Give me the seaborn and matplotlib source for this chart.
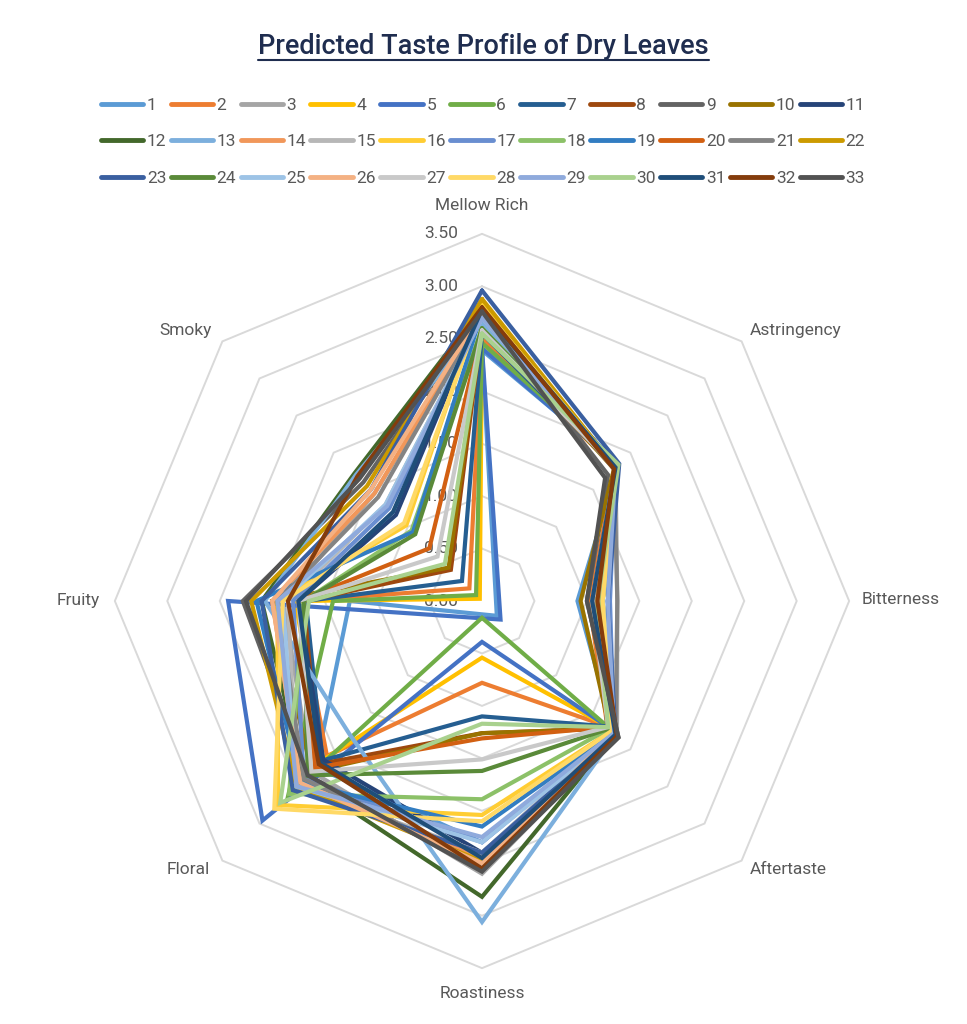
import numpy as np
import pandas as pd
import matplotlib
matplotlib.use("Agg")
import matplotlib.pyplot as plt
import seaborn as sns
from matplotlib.lines import Line2D

# ---------------- data ----------------
categories = ["Mellow Rich", "Astringency", "Bitterness", "Aftertaste",
              "Roastiness", "Floral", "Fruity", "Smoky"]
series_names = [str(i) for i in range(1, 34)]

mellow_rich = [2.39, 2.50, 2.70, 2.55, 2.41, 2.46, 2.55, 2.62, 2.75, 2.65, 2.78,
               2.80, 2.65, 2.75, 2.70, 2.85, 2.72, 2.60, 2.75, 2.58, 2.72, 2.88,
               2.96, 2.60, 2.70, 2.75, 2.58, 2.80, 2.70, 2.55, 2.78, 2.80, 2.76]
astringency = [1.84, 1.80, 1.80, 1.81, 1.83, 1.84, 1.80, 1.80, 1.70, 1.78, 1.80,
               1.80, 1.82, 1.80, 1.80, 1.80, 1.80, 1.82, 1.82, 1.80, 1.78, 1.80,
               1.85, 1.80, 1.80, 1.80, 1.80, 1.80, 1.80, 1.84, 1.80, 1.78, 1.66]
bitterness = [0.91, 1.02, 1.29, 1.15, 1.20, 1.10, 1.10, 1.10, 1.00, 0.94, 1.05,
              1.10, 1.15, 1.10, 1.20, 1.15, 1.22, 1.12, 1.20, 1.05, 1.29, 1.15,
              1.20, 1.10, 1.15, 1.10, 1.05, 1.15, 1.20, 1.10, 1.05, 1.10, 1.00]
aftertaste = [1.78, 1.69, 1.82, 1.69, 1.70, 1.70, 1.69, 1.72, 1.84, 1.72, 1.80,
              1.80, 1.80, 1.78, 1.78, 1.75, 1.78, 1.72, 1.78, 1.70, 1.80, 1.78,
              1.80, 1.72, 1.80, 1.78, 1.70, 1.75, 1.78, 1.70, 1.80, 1.82, 1.84]
roastiness = [2.30, 0.78, 2.60, 0.54, 0.39, 0.16, 1.10, 1.26, 2.55, 1.26, 2.40,
              2.82, 3.06, 2.45, 2.40, 2.04, 2.30, 1.89, 2.15, 1.31, 2.50, 2.48,
              2.40, 1.62, 2.30, 2.50, 1.51, 2.10, 2.25, 1.17, 2.45, 2.55, 2.58]
floral = [2.24, 2.09, 2.30, 2.14, 2.96, 2.61, 2.15, 2.20, 2.35, 2.30, 2.14,
          2.40, 1.79, 2.45, 2.50, 2.75, 2.40, 2.60, 2.45, 2.25, 2.40, 2.50,
          2.55, 2.35, 2.50, 2.45, 2.30, 2.80, 2.50, 2.72, 2.18, 2.20, 2.35]
fruity = [1.26, 1.76, 1.90, 1.78, 2.42, 1.42, 1.68, 1.70, 2.28, 2.00, 1.75,
          2.10, 2.07, 2.00, 1.85, 1.95, 1.80, 1.70, 2.15, 1.75, 1.95, 2.20,
          2.10, 1.70, 1.90, 2.00, 1.75, 1.90, 1.95, 1.65, 1.75, 1.85, 2.25]
smoky = [-0.20, 0.17, 1.45, 0.03, -0.25, 0.08, 0.27, 0.42, 1.60, 0.45, 1.16,
         1.72, 1.70, 1.45, 1.30, 1.02, 1.25, 0.95, 0.93, 0.71, 1.40, 1.55,
         1.50, 0.90, 1.30, 1.50, 0.60, 1.05, 1.28, 0.50, 1.20, 1.68, 1.65]

tick_values = [0.0, 0.5, 1.0, 1.5, 2.0, 2.5, 3.0, 3.5]
tick_labels = ["0.00", "0.50", "1.00", "1.50", "2.00", "2.50", "3.00", "3.50"]

colors = ["#5B9BD5", "#ED7D31", "#A5A5A5", "#FFC000", "#4472C4", "#70AD47",
          "#255E91", "#9E480E", "#636363", "#997300", "#264478", "#43682B",
          "#7CAFDD", "#F1975A", "#B7B7B7", "#FFCD33", "#698ED0", "#8CC168",
          "#327DC2", "#D26012", "#848484", "#CC9A00", "#3A5FA0", "#5A8A39",
          "#9DC3E6", "#F4B183", "#C9C9C9", "#FFD966", "#8FAADC", "#A9D18E",
          "#1F4E79", "#843C0C", "#525252"]

# ---------------- build long table ----------------
values = np.array([mellow_rich, astringency, bitterness, aftertaste,
                   roastiness, floral, fruity, smoky])  # (8, 33)
n_cat = len(categories)
angles = np.arange(n_cat) * 2 * np.pi / n_cat  # clockwise from top

rows = []
for j, name in enumerate(series_names):
    for step in range(n_cat + 1):
        k = step % n_cat
        v = values[k, j]
        rows.append({"series": name, "step": step,
                     "x": v * np.sin(angles[k]), "y": v * np.cos(angles[k])})
df = pd.DataFrame(rows)

# ---------------- figure ----------------
sns.set_theme(style="white")
plt.rcParams["font.family"] = ["Roboto", "DejaVu Sans"]

W, H = 967, 1024
fig = plt.figure(figsize=(W / 100, H / 100), dpi=100)
cx, cy, ppu = 482, 601, 104.9  # centre in px, px per unit
xr, yr = 4.5, 4.0
ax = fig.add_axes([(cx - xr * ppu) / W, (H - cy - yr * ppu) / H,
                   2 * xr * ppu / W, 2 * yr * ppu / H])
ax.set_xlim(-xr, xr)
ax.set_ylim(-yr, yr)
ax.axis("off")

grid_col = "#D9D9D9"
for lev in tick_values[1:]:
    gx = [lev * np.sin(a) for a in list(angles) + [angles[0]]]
    gy = [lev * np.cos(a) for a in list(angles) + [angles[0]]]
    ax.plot(gx, gy, color=grid_col, lw=1.4, zorder=1)

txt_col = "#595959"
for lev, lab in zip(tick_values, tick_labels):
    ax.text(-0.23, lev, lab, ha="right", va="center", fontsize=12.5,
            color=txt_col, zorder=2)

sns.lineplot(data=df, x="x", y="y", hue="series", hue_order=series_names,
             palette=colors, sort=False, estimator=None, linewidth=3.0,
             legend=False, ax=ax, zorder=3)
for ln in ax.lines:
    ln.set_solid_joinstyle("miter")

label_pos = {
    "Mellow Rich": ((482, 205), "center"),
    "Astringency": ((750, 330), "left"),
    "Bitterness": ((862, 600), "left"),
    "Aftertaste": ((750, 870), "left"),
    "Roastiness": ((482, 993), "center"),
    "Floral": ((210, 870), "right"),
    "Fruity": ((100, 600), "right"),
    "Smoky": ((212, 330), "right"),
}
for cat in categories:
    (px, py), ha = label_pos[cat]
    ax.text((px - cx) / ppu, (cy - py) / ppu, cat, ha=ha, va="center",
            fontsize=12.5, color=txt_col)

# title with underline
title_col = "#1F2D4F"
t = fig.text(0.5, 1 - 47 / H, "Predicted Taste Profile of Dry Leaves",
             ha="center", va="center", fontsize=19.5, fontweight="medium",
             color=title_col)
fig.canvas.draw()
bb = t.get_window_extent(renderer=fig.canvas.get_renderer())
uy = 1 - 60 / H
fig.add_artist(Line2D([bb.x0 / W, bb.x1 / W], [uy, uy], color=title_col,
                      lw=1.5, transform=fig.transFigure))

# legend (row-major order with 11 columns)
handles = [Line2D([0], [0], color=c, lw=3.5, solid_capstyle="round")
           for c in colors]
ncol, nrow = 11, 3
order = [r * ncol + c for c in range(ncol) for r in range(nrow)]
leg = fig.legend([handles[i] for i in order], [series_names[i] for i in order],
                 loc="upper center", bbox_to_anchor=(483 / W, 1 - 98 / H),
                 ncol=ncol, frameon=False, fontsize=12.5, handlelength=2.45,
                 handletextpad=0.2, columnspacing=0.25, labelspacing=1.22,
                 borderpad=0, borderaxespad=0)
for tx in leg.get_texts():
    tx.set_color(txt_col)

fig.savefig("out.png", dpi=100, facecolor="white")
